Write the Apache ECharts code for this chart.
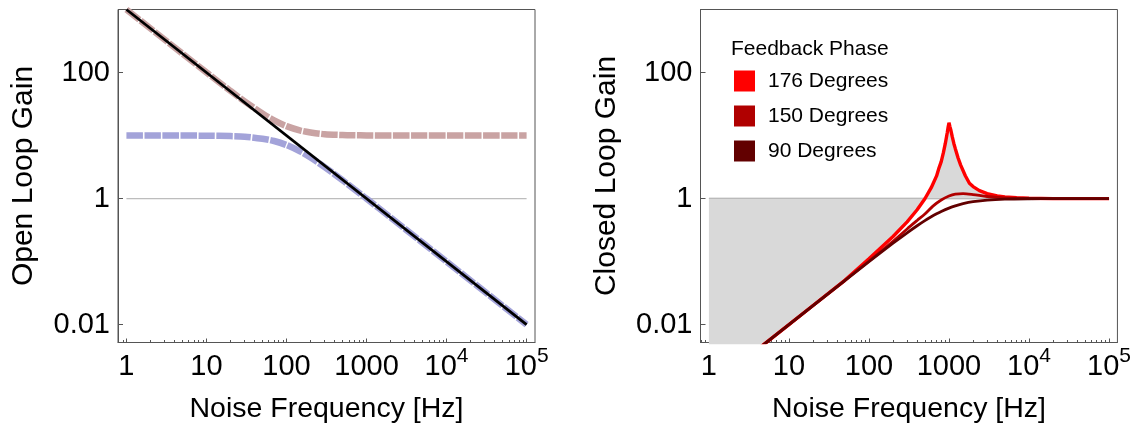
<!DOCTYPE html>
<html>
<head>
<meta charset="utf-8">
<script src="https://cdn.jsdelivr.net/npm/echarts@6/dist/echarts.min.js"></script>
<style>
  html, body { margin: 0; padding: 0; background: #fff; }
  #chart { width: 1134px; height: 433px; }
</style>
</head>
<body>
<div id="chart"></div>
<script>
// left panel: open loop gain vs frequency
var olFreq = [1, 2, 5, 10, 20, 30, 50, 70, 100, 150, 200, 300, 500, 700, 1000, 2000, 5000, 10000, 100000];
var olUpper = [1000, 500, 200, 100.5, 51, 34.8, 22.4, 17.4, 14.1, 12.0, 11.2, 10.5, 10.2, 10.1, 10.05, 10, 10, 10, 10];
var olLower = [10, 10, 10, 9.95, 9.8, 9.6, 8.9, 8.2, 7.07, 5.55, 4.47, 3.16, 1.96, 1.41, 1.0, 0.5, 0.2, 0.1, 0.01];
var olBareFreq = [1, 100000];
var olBare = [1000, 0.01];

// right panel: closed loop gain for three feedback phases
var freq176 = [1, 2, 5, 10, 20, 50, 100, 200, 300, 400, 500, 600, 700, 753, 800, 850, 900, 950, 975, 1000, 1025, 1050, 1100, 1150, 1200, 1300, 1400, 1600, 1800, 2000, 2400, 3000, 4000, 5000, 7000, 10000, 20000, 100000];
var cl176 = [0.001, 0.002, 0.005, 0.01, 0.0201, 0.0505, 0.111, 0.25, 0.428, 0.665, 0.995, 1.49, 2.29, 3.1, 3.85, 5.3, 7.5, 11, 13.5, 16, 14, 12.5, 9.5, 7.5, 6.2, 4.4, 3.4, 2.3, 1.75, 1.55, 1.34, 1.2, 1.1, 1.06, 1.03, 1.01, 1.0, 1.0];
var freq150 = [1, 10, 100, 200, 300, 400, 500, 630, 800, 1000, 1200, 1500, 2000, 3000, 5000, 10000, 100000];
var cl150 = [0.001, 0.01, 0.102, 0.21, 0.33, 0.45, 0.57, 0.76, 0.95, 1.1, 1.18, 1.2, 1.16, 1.08, 1.03, 1.01, 1.0];
var freq90 = [1, 10, 100, 200, 300, 400, 500, 600, 700, 800, 1000, 1200, 1500, 2000, 3000, 5000, 10000, 20000, 100000];
var cl90 = [0.001, 0.01, 0.0995, 0.196, 0.287, 0.371, 0.447, 0.514, 0.573, 0.625, 0.707, 0.768, 0.832, 0.894, 0.949, 0.981, 0.995, 0.999, 1.0];
var unityFreq = [1, 100000];
var unity = [1, 1];

var phaseNames = ['176 Degrees', '150 Degrees', '90 Degrees'];
var phaseColors = ['#ff0000', '#b00000', '#620000'];

// ticks
var xMajor = [1, 10, 100, 1000, 10000, 100000];
var xDecades = [0.1, 1, 10, 100, 1000, 10000];
var xSteps = [2, 3, 4, 5, 6, 7, 8, 9];
var yMajor = [0.01, 1, 100];

var xMin = 0.785, xMax = 127350;
var yMin = 0.00521, yMax = 1000;

var font = 'Liberation Sans, Arial, sans-serif';
var frame = '#555';

var xMinor = [];
xDecades.forEach(function (d) {
  xSteps.forEach(function (s) {
    var v = +(d * s).toPrecision(3);
    if (v > xMin && v < xMax) xMinor.push(v);
  });
});

function pairs(xs, ys) {
  return xs.map(function (x, i) { return [x, ys[i]]; });
}

function fmtX(v) {
  var e = Math.round(Math.log10(v));
  return e >= 4 ? '10{sup|' + e + '}' : String(Math.round(v));
}
function fmtY(v) {
  return v >= 1 ? String(Math.round(v)) : String(v);
}

function makeX(g) {
  return [{
    type: 'log', gridIndex: g, position: 'bottom', min: xMin, max: xMax,
    name: 'Noise Frequency [Hz]', nameLocation: 'middle', nameGap: 52,
    nameTextStyle: { fontSize: 28.5, fontFamily: font, color: '#000' },
    axisLine: { show: true, lineStyle: { color: frame, width: 1 } },
    axisTick: { show: true, inside: true, length: 4, customValues: xMajor, lineStyle: { color: frame } },
    axisLabel: {
      customValues: xMajor, interval: 0, formatter: fmtX, margin: 2,
      fontSize: 29, lineHeight: 44, fontFamily: font, color: '#000',
      rich: { sup: { fontSize: 21, fontFamily: font, color: '#000', padding: [0, 0, 20, 0] } }
    },
    splitLine: { show: false }
  }, {
    type: 'log', gridIndex: g, position: 'bottom', min: xMin, max: xMax,
    axisLine: { show: false },
    axisTick: { show: true, inside: true, length: 2.5, customValues: xMinor, lineStyle: { color: frame } },
    axisLabel: { show: false },
    splitLine: { show: false }
  }];
}

function makeY(g, title) {
  return {
    type: 'log', gridIndex: g, min: yMin, max: yMax,
    name: title, nameLocation: 'middle', nameGap: 79,
    nameTextStyle: { fontSize: 30, fontFamily: font, color: '#000' },
    axisLine: { show: true, lineStyle: { color: frame, width: 1 } },
    axisTick: { show: true, inside: true, length: 5, customValues: yMajor, lineStyle: { color: frame } },
    axisLabel: { customValues: yMajor, interval: 0, formatter: fmtY, margin: 8, fontSize: 29, fontFamily: font, color: '#000' },
    splitLine: { show: false }
  };
}

var chart = echarts.init(document.getElementById('chart'), null, { renderer: 'canvas' });

var option = {
  animation: false,
  backgroundColor: '#fff',
  grid: [
    { left: 118, top: 9.5, width: 417, height: 333, show: true, borderColor: frame, borderWidth: 1, backgroundColor: 'transparent' },
    { left: 700.5, top: 9.5, width: 417, height: 333, show: true, borderColor: frame, borderWidth: 1, backgroundColor: 'transparent' }
  ],
  xAxis: makeX(0).concat(makeX(1)),
  yAxis: [makeY(0, 'Open Loop Gain'), makeY(1, 'Closed Loop Gain')],
  title: {
    text: 'Feedback Phase', left: 731, top: 39, padding: 0,
    textStyle: { fontSize: 21, fontWeight: 'normal', fontFamily: font, color: '#000' }
  },
  legend: {
    data: phaseNames, orient: 'vertical', left: 734, top: 70.5, padding: 0,
    itemWidth: 21, itemHeight: 21, itemGap: 14, icon: 'rect', selectedMode: false,
    textStyle: { fontSize: 21, lineHeight: 21, fontFamily: font, color: '#000', padding: [0, 0, 0, 8] }
  },
  series: [
    { name: 'unity-open', type: 'line', xAxisIndex: 0, yAxisIndex: 0, data: pairs(unityFreq, unity),
      showSymbol: false, silent: true, lineStyle: { color: '#bdbdbd', width: 1.2 }, z: 1 },
    { name: 'feedback-only', type: 'line', xAxisIndex: 0, yAxisIndex: 0, data: pairs(olFreq, olLower),
      showSymbol: false, smooth: 0.3, lineStyle: { color: '#a3a3d9', width: 6.5, type: [16.5, 1.5], cap: 'butt' }, z: 2 },
    { name: 'with-floor', type: 'line', xAxisIndex: 0, yAxisIndex: 0, data: pairs(olFreq, olUpper),
      showSymbol: false, smooth: 0.3, lineStyle: { color: '#c9a3a3', width: 6.5, type: [16.5, 1.5], cap: 'butt' }, z: 2 },
    { name: 'bare', type: 'line', xAxisIndex: 0, yAxisIndex: 0, data: pairs(olBareFreq, olBare),
      showSymbol: false, lineStyle: { color: '#000', width: 2.8 }, z: 3 },

    { name: 'unity-closed', type: 'line', xAxisIndex: 2, yAxisIndex: 1, data: pairs(unityFreq, unity),
      showSymbol: false, silent: true, lineStyle: { color: '#9a9a9a', width: 1.5 }, z: 2 },
    { name: phaseNames[0], type: 'line', xAxisIndex: 2, yAxisIndex: 1, data: pairs(freq176, cl176),
      showSymbol: false, color: phaseColors[0], itemStyle: { color: phaseColors[0] },
      lineStyle: { color: phaseColors[0], width: 3.4 },
      areaStyle: { origin: 1, color: '#d9d9d9', opacity: 1 }, z: 3 },
    { name: phaseNames[1], type: 'line', xAxisIndex: 2, yAxisIndex: 1, data: pairs(freq150, cl150),
      showSymbol: false, smooth: 0.3, color: phaseColors[1], itemStyle: { color: phaseColors[1] },
      lineStyle: { color: phaseColors[1], width: 2.8 }, z: 4 },
    { name: phaseNames[2], type: 'line', xAxisIndex: 2, yAxisIndex: 1, data: pairs(freq90, cl90),
      showSymbol: false, smooth: 0.3, color: phaseColors[2], itemStyle: { color: phaseColors[2] },
      lineStyle: { color: phaseColors[2], width: 2.8 }, z: 5 }
  ]
};

chart.setOption(option);
</script>
</body>
</html>
